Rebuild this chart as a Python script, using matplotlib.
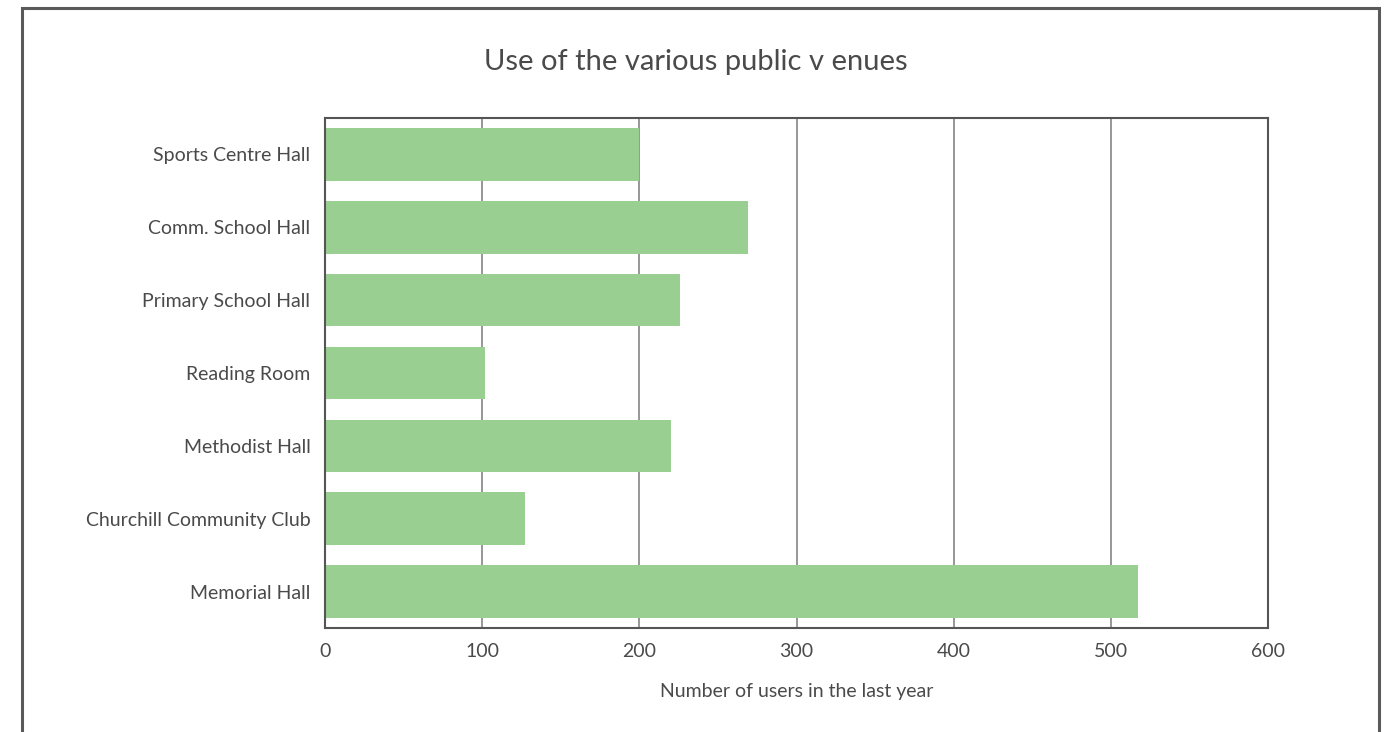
import matplotlib
matplotlib.use("Agg")
import matplotlib.pyplot as plt
from matplotlib.patches import Rectangle

venues = ["Sports Centre Hall", "Comm. School Hall", "Primary School Hall", "Reading Room",
          "Methodist Hall", "Churchill Community Club", "Memorial Hall"]
users = [200, 269, 226, 102, 220, 127, 517]
xticks = [0, 100, 200, 300, 400, 500, 600]

plt.rcParams["font.family"] = ["Lato", "DejaVu Sans"]
text_col = "#4a4a4a"

fig = plt.figure(figsize=(13.92, 7.32), dpi=100)
ax = fig.add_axes([325 / 1392, 1 - 628 / 732, (1268 - 325) / 1392, (628 - 118) / 732])

ypos = list(range(len(venues)))
ax.barh(ypos, users, height=0.72, color="#99cf90", zorder=2)
ax.set_ylim(len(venues) - 0.5, -0.5)
ax.set_xlim(0, 600)
ax.set_yticks(ypos)
ax.set_yticklabels(venues, fontsize=14, color=text_col)
ax.set_xticks(xticks)
ax.set_xticklabels([str(t) for t in xticks], fontsize=14, color=text_col)
ax.tick_params(axis="y", length=0, pad=10.5)
ax.tick_params(axis="x", length=0, pad=11)
ax.xaxis.grid(True, color="#7a7a7a", linewidth=1.1, zorder=1)
ax.set_axisbelow(True)
for s in ax.spines.values():
    s.set_color("#555555")
    s.set_linewidth(1.5)
ax.set_xlabel("Number of users in the last year", fontsize=14, color=text_col, labelpad=16)

fig.text(0.5, 1 - 62 / 732, "Use of the various public v enues", ha="center", va="center",
         fontsize=21, color=text_col)

# outer frame (bottom edge cut off)
fig.patches.append(Rectangle((22 / 1392, -0.05), (1379 - 22) / 1392, 1.05 - 8 / 732,
                             transform=fig.transFigure, fill=False, edgecolor="#5a5a5a",
                             linewidth=2.2))

fig.savefig("out.png", dpi=100)
